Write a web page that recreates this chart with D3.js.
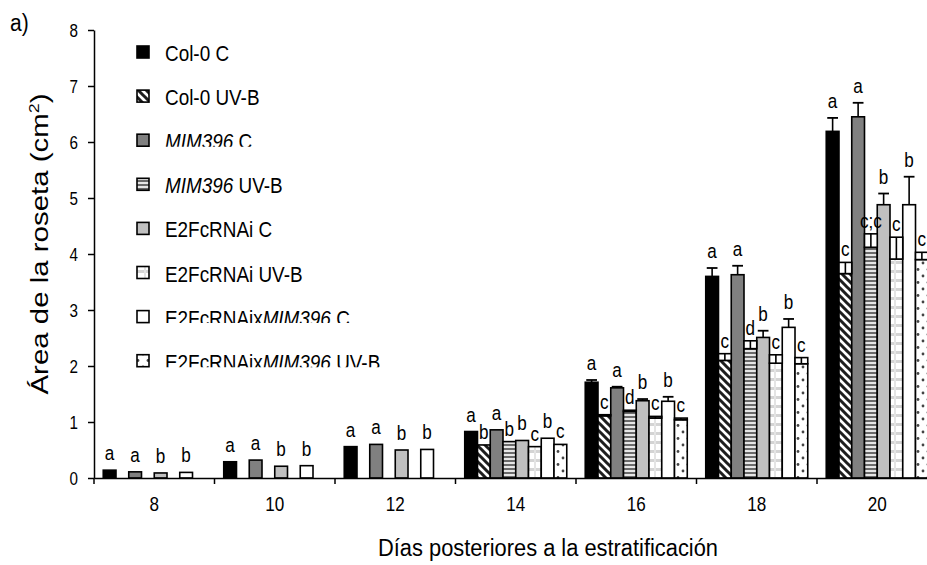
<!DOCTYPE html>
<html><head><meta charset="utf-8">
<script src="https://cdn.jsdelivr.net/npm/d3@7"></script>
<style>
html,body{margin:0;padding:0;background:#fff;}
svg{display:block;font-family:"Liberation Sans",Arial,sans-serif;}
</style></head>
<body>
<svg id="chart" width="927" height="565"></svg>
<script>
// ---------- data ----------
const days = ["8","10","12","14","16","18","20"];
const seriesKeys = ["col0C","col0UV","mimC","mimUV","e2fC","e2fUV","xC","xUV"];

const col0C  = [0.14,0.29,0.56,0.83,1.71,3.60,6.19];
const col0UV = [null,null,null,0.59,1.11,2.10,3.65];
const mimC   = [0.11,0.32,0.60,0.86,1.61,3.63,6.45];
const mimUV  = [null,null,null,0.65,1.19,2.31,4.12];
const e2fC   = [0.09,0.21,0.50,0.67,1.38,2.51,4.88];
const e2fUV  = [null,null,null,0.56,1.07,2.05,3.91];
const xC     = [0.10,0.22,0.51,0.71,1.37,2.69,4.88];
const xUV    = [null,null,null,0.60,1.04,2.04,3.90];

const col0C_err  = [0,0,0,0,0.04,0.15,0.24];
const col0UV_err = [null,null,null,0,0.02,0.12,0.20];
const mimC_err   = [0,0,0,0,0.02,0.16,0.25];
const mimUV_err  = [null,null,null,0,0.02,0.14,0.24];
const e2fC_err   = [0,0,0,0,0.03,0.12,0.20];
const e2fUV_err  = [null,null,null,0,0.03,0.15,0.39];
const xC_err     = [0,0,0,0,0.08,0.15,0.50];
const xUV_err    = [null,null,null,0,0.03,0.11,0.13];

const col0C_lbl  = ["a","a","a","a","a","a","a"];
const col0UV_lbl = [null,null,null,"b","c","c","c"];
const mimC_lbl   = ["a","a","a","a","a","a","a"];
const mimUV_lbl  = [null,null,null,"b","d","d","c;c"];
const e2fC_lbl   = ["b","b","b","b","b","b","b"];
const e2fUV_lbl  = [null,null,null,"c","c","c","c"];
const xC_lbl     = ["b","b","b","b","b","b","b"];
const xUV_lbl    = [null,null,null,"c","c","c","c"];

const yTicks = [0,1,2,3,4,5,6,7,8];

// legend labels: [text, italic?]
const legendLabels = [
  [["Col-0 C",false]],
  [["Col-0 UV-B",false]],
  [["MIM396",true],[" C",false]],
  [["MIM396",true],[" UV-B",false]],
  [["E2FcRNAi C",false]],
  [["E2FcRNAi UV-B",false]],
  [["E2FcRNAix",false],["MIM396",true],[" C",false]],
  [["E2FcRNAix",false],["MIM396",true],[" UV-B",false]]
];

const values = {col0C,col0UV,mimC,mimUV,e2fC,e2fUV,xC,xUV};
const errs = {col0C:col0C_err,col0UV:col0UV_err,mimC:mimC_err,mimUV:mimUV_err,e2fC:e2fC_err,e2fUV:e2fUV_err,xC:xC_err,xUV:xUV_err};
const lbls = {col0C:col0C_lbl,col0UV:col0UV_lbl,mimC:mimC_lbl,mimUV:mimUV_lbl,e2fC:e2fC_lbl,e2fUV:e2fUV_lbl,xC:xC_lbl,xUV:xUV_lbl};

// ---------- styles ----------
const fills = {col0C:"#000000",col0UV:"url(#pDiag)",mimC:"#808080",mimUV:"url(#pHoriz)",
               e2fC:"#c0c0c0",e2fUV:"url(#pGrid)",xC:"#ffffff",xUV:"url(#pDots)"};
const isUV = {col0C:false,col0UV:true,mimC:false,mimUV:true,e2fC:false,e2fUV:true,xC:false,xUV:true};
const legendClip = [false,false,true,false,false,false,true,true];

const svg = d3.select("#chart");
const defs = svg.append("defs");

// patterns
let p = defs.append("pattern").attr("id","pDiag").attr("patternUnits","userSpaceOnUse").attr("width",8).attr("height",8);
p.append("rect").attr("width",8).attr("height",8).attr("fill","#fff");
p.append("path").attr("d","M-2,-2L10,10M-2,6L2,10M6,-2L10,2").attr("stroke","#1e1e1e").attr("stroke-width",3);

p = defs.append("pattern").attr("id","pHoriz").attr("patternUnits","userSpaceOnUse").attr("width",4).attr("height",4);
p.append("rect").attr("width",4).attr("height",4).attr("fill","#e6e6e6");
p.append("rect").attr("width",4).attr("height",2).attr("fill","#6a6a6a");

p = defs.append("pattern").attr("id","pGrid").attr("patternUnits","userSpaceOnUse").attr("width",10).attr("height",9);
p.append("rect").attr("width",10).attr("height",9).attr("fill","#fff");
p.append("rect").attr("width",10).attr("height",3).attr("fill","#d4d4d4");
p.append("rect").attr("x",4).attr("width",2).attr("height",9).attr("fill","#e4e4e4");

p = defs.append("pattern").attr("id","pDots").attr("patternUnits","userSpaceOnUse").attr("width",10).attr("height",13);
p.append("rect").attr("width",10).attr("height",13).attr("fill","#fff");
p.append("circle").attr("cx",3).attr("cy",3).attr("r",1.4).attr("fill","#444");
p.append("circle").attr("cx",8).attr("cy",9.5).attr("r",1.4).attr("fill","#444");

// ---------- scales ----------
const x0 = d3.scaleBand().domain(days).range([94, 937.5]).paddingInner(0).paddingOuter(0);
const x1 = d3.scaleBand().domain(seriesKeys).range([0, x0.bandwidth()]).paddingInner(0).paddingOuter(0.725);
const y = d3.scaleLinear().domain([0,8]).range([478,30]);

// ---------- bars ----------
const rows = [];
seriesKeys.forEach(k=>{
  days.forEach((d,i)=>{
    const v = values[k][i];
    if(v==null) return;
    rows.push({k,d,v,e:errs[k][i]||0,l:lbls[k][i]});
  });
});

const g = svg.append("g");
const bx = r => x0(r.d)+x1(r.k);
const bw = x1.bandwidth();

g.selectAll("rect.bar").data(rows).join("rect").attr("class","bar")
  .attr("x",bx).attr("y",r=>y(r.v)).attr("width",bw).attr("height",r=>y(0)-y(r.v))
  .attr("fill",r=>fills[r.k]).attr("stroke","#000").attr("stroke-width",1.6);

// error bars
rows.filter(r=>r.e>0).forEach(r=>{
  const cx = bx(r)+bw/2, yt=y(r.v+r.e), yb=y(r.v);
  if(isUV[r.k]){
    g.append("rect").attr("x",bx(r)).attr("y",yt).attr("width",bw).attr("height",yb-yt)
      .attr("fill","#fff").attr("stroke","#000").attr("stroke-width",1.6);
    g.append("line").attr("x1",cx).attr("x2",cx).attr("y1",yt).attr("y2",yb).attr("stroke","#000").attr("stroke-width",1.6);
  } else {
    g.append("line").attr("x1",cx).attr("x2",cx).attr("y1",yt).attr("y2",yb).attr("stroke","#000").attr("stroke-width",1.6);
    g.append("line").attr("x1",bx(r)+1).attr("x2",bx(r)+bw-1).attr("y1",yt).attr("y2",yt).attr("stroke","#000").attr("stroke-width",1.8);
  }
});

// letters
g.selectAll("text.lbl").data(rows.filter(r=>r.l)).join("text").attr("class","lbl")
  .attr("transform",r=>`translate(${bx(r)+bw/2},${y(r.v+r.e) - (isUV[r.k]?6:10)}) scale(0.95,1.15)`)
  .attr("text-anchor","middle").attr("font-size",18).attr("fill","#000")
  .text(r=>r.l);

// ---------- axes ----------
const yAxis = d3.axisLeft(y).tickValues(yTicks).tickSize(6).tickSizeOuter(0).tickPadding(10).tickFormat(d3.format("d"));
const ya = svg.append("g").attr("transform","translate(94,0)").call(yAxis);
ya.select(".domain").attr("stroke","#000").attr("stroke-width",1.5);
ya.selectAll(".tick line").attr("stroke","#000").attr("stroke-width",1.5);
ya.selectAll(".tick text").attr("font-size",16).attr("font-family","Liberation Sans, Arial, sans-serif").attr("fill","#000")
  .attr("x",null).attr("dy",null).attr("transform","translate(-16,6) scale(0.95,1.12)");

const xAxis = d3.axisBottom(x0).tickSize(0).tickSizeOuter(0).tickPadding(19);
const xa = svg.append("g").attr("transform","translate(0,478)").call(xAxis);
xa.select(".domain").attr("stroke","#000").attr("stroke-width",1.5);
xa.selectAll(".tick text").attr("font-size",18).attr("font-family","Liberation Sans, Arial, sans-serif").attr("fill","#000")
  .attr("y",null).attr("dy",null).attr("transform","translate(0,33) scale(0.95,1.12)");
// boundary ticks
const bounds = days.map(d=>x0(d)).concat([x0.range()[1]]);
xa.selectAll("line.bt").data(bounds).join("line").attr("class","bt")
  .attr("x1",d=>d).attr("x2",d=>d).attr("y1",0).attr("y2",6).attr("stroke","#000").attr("stroke-width",1.5);

// ---------- titles ----------
svg.append("text").attr("transform","translate(548,556) scale(1,1.1)").attr("text-anchor","middle")
  .attr("font-size",21).attr("textLength",340).attr("lengthAdjust","spacingAndGlyphs")
  .text("Días posteriores a la estratificación");

const yt = svg.append("text").attr("transform","translate(48,244) rotate(-90) scale(1.28,1)").attr("text-anchor","middle")
  .attr("font-size",23);
yt.append("tspan").text("Área de la roseta (cm");
yt.append("tspan").attr("font-size",14).attr("dy",-9).text("2");
yt.append("tspan").attr("dy",9).text(")");

svg.append("text").attr("transform","translate(10,31) scale(1,1.1)").attr("font-size",21).text("a)");

// ---------- legend ----------
const leg = svg.append("g");
legendLabels.forEach((parts,i)=>{
  const base = 61 + i*44.1;
  const k = seriesKeys[i];
  leg.append("rect").attr("x",137).attr("y",base-15).attr("width",12).attr("height",12)
    .attr("fill",fills[k]).attr("stroke","#000").attr("stroke-width",1.6);
  const holder = leg.append("g");
  if(legendClip[i]){
    defs.append("clipPath").attr("id","lc"+i).append("rect")
      .attr("x",150).attr("y",base-40).attr("width",300).attr("height",37.5);
    holder.attr("clip-path","url(#lc"+i+")");
  }
  const t = holder.append("text").attr("transform",`translate(165,${base}) scale(0.97,1.12)`).attr("font-size",19.5);
  parts.forEach(([s,it])=>{
    t.append("tspan").attr("font-style",it?"italic":"normal").text(s);
  });
});
</script>
</body></html>
